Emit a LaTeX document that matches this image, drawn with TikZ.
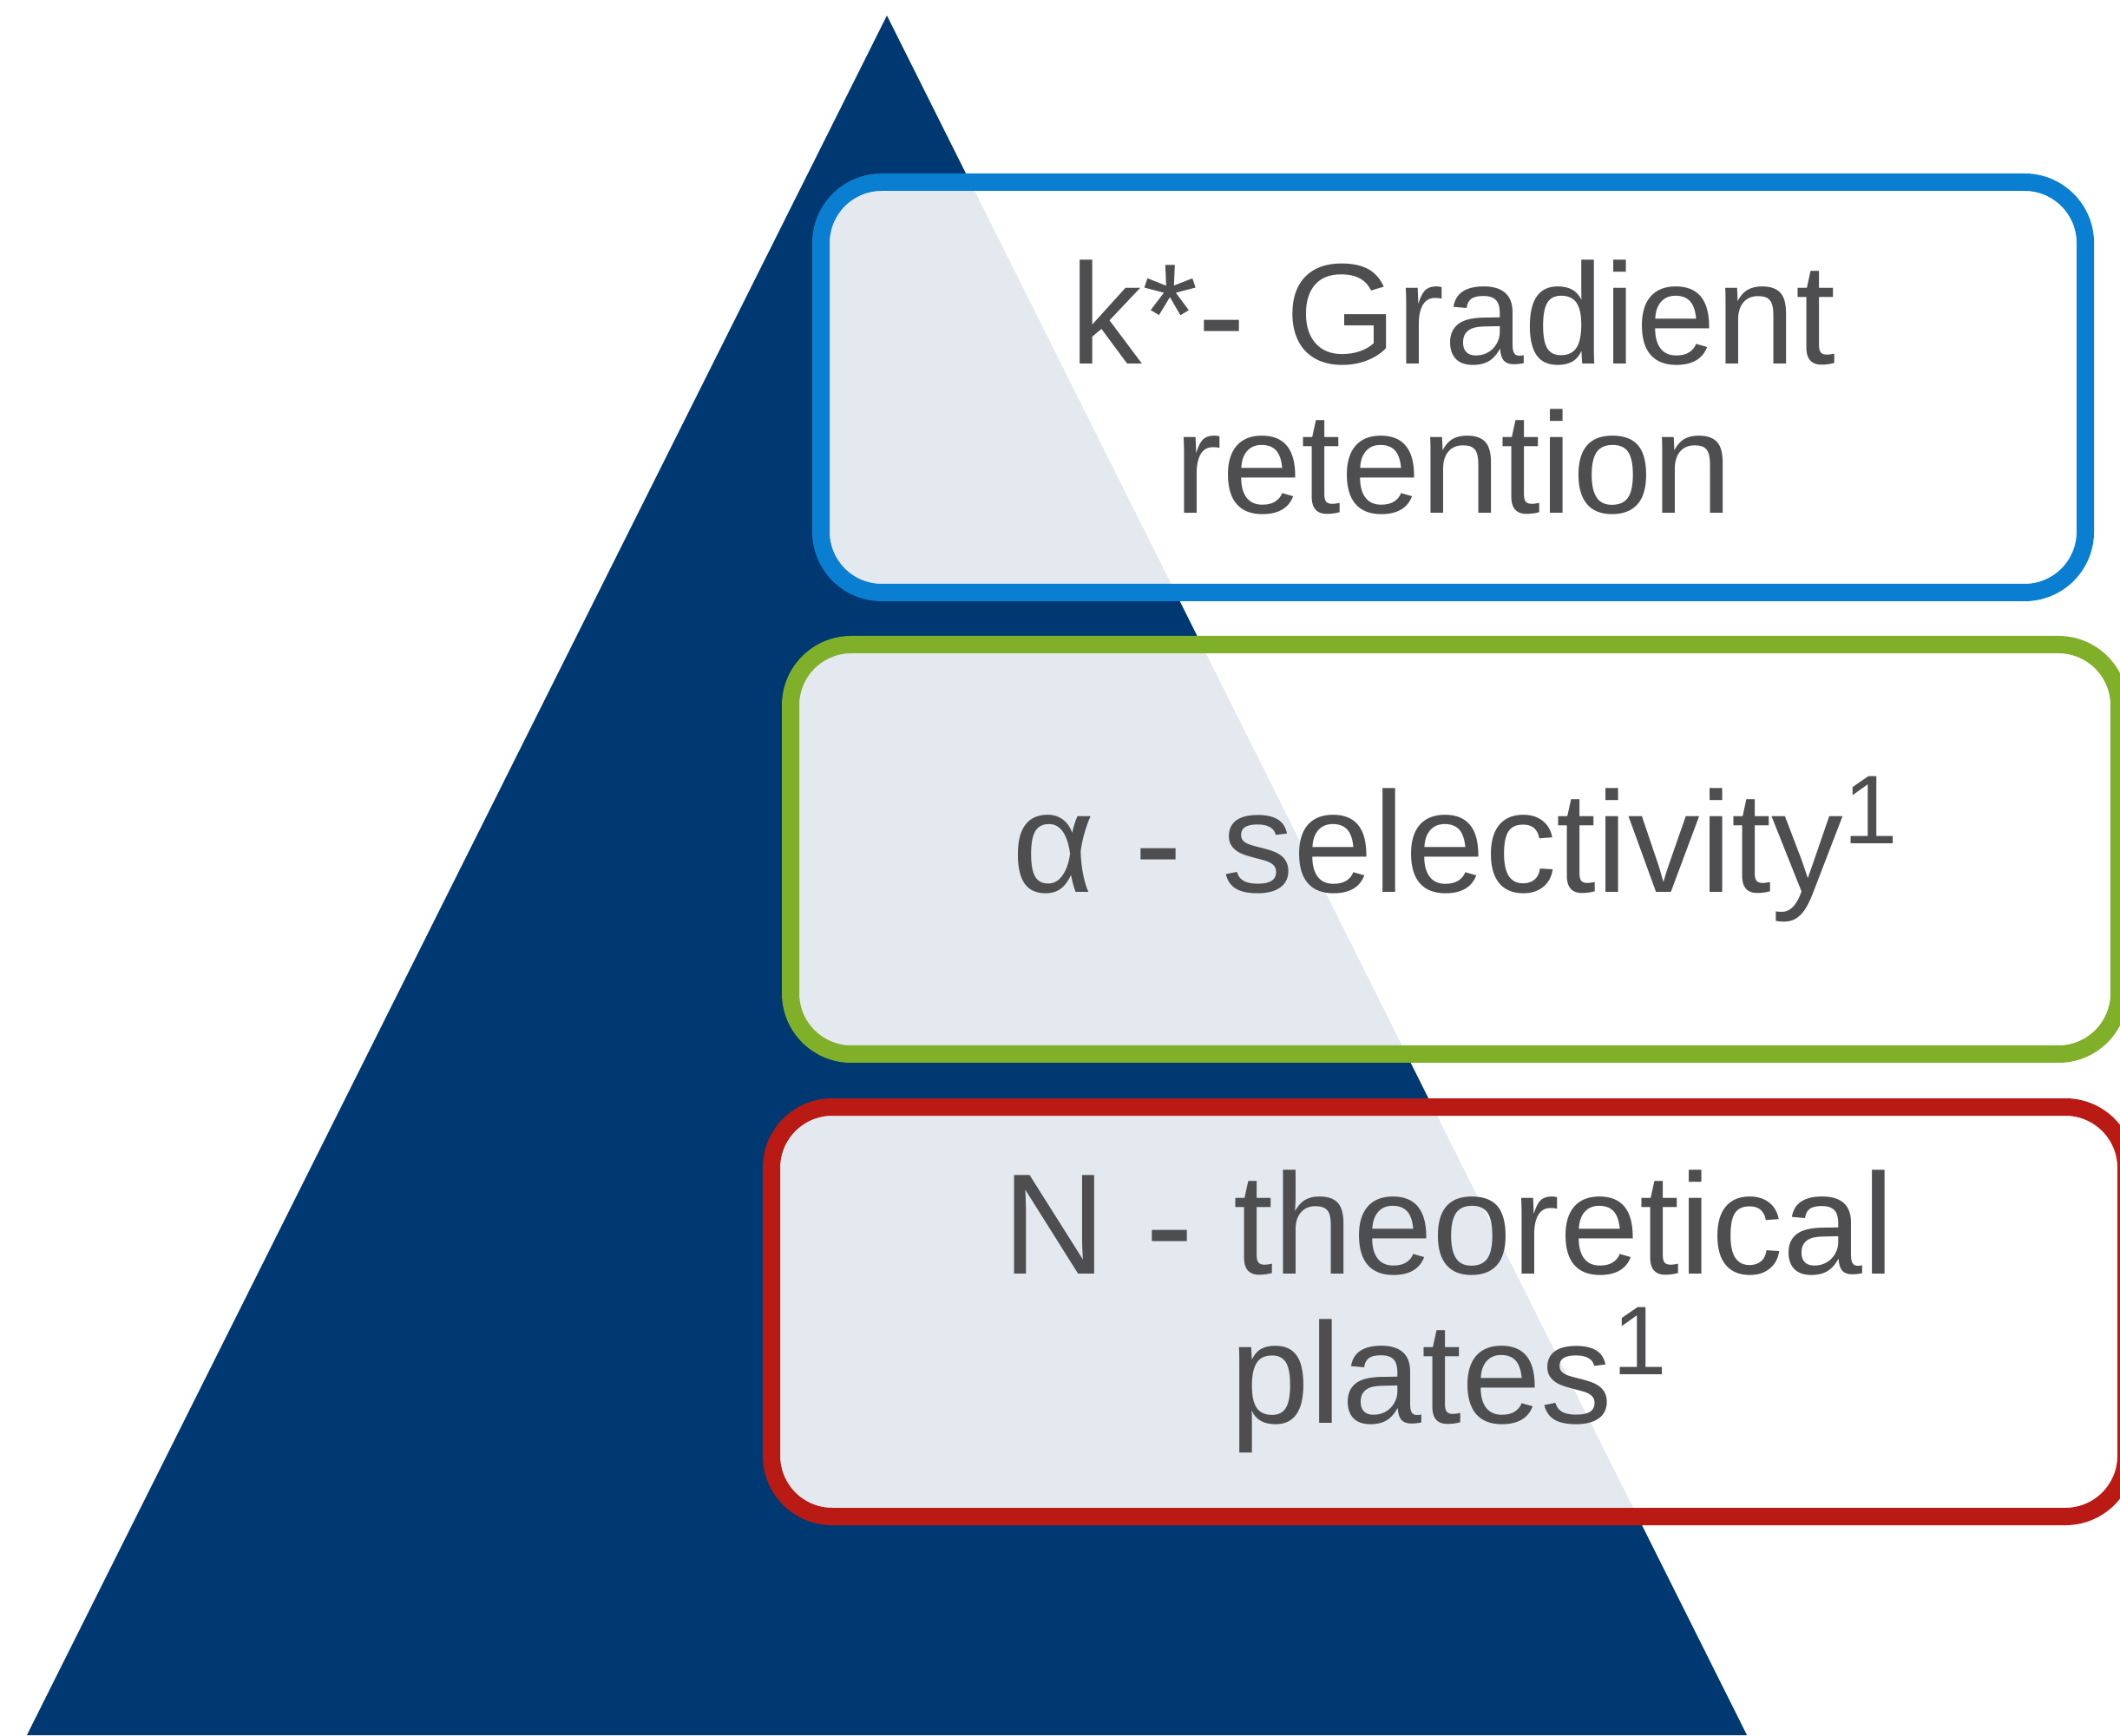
\documentclass[tikz,border=0pt]{standalone}
\usepackage{fontspec}
\setmainfont{Liberation Sans}
\usepackage{xcolor}
\usetikzlibrary{positioning}
\definecolor{pyrnavy}{RGB}{0,57,114}
\definecolor{kblue}{RGB}{10,127,210}
\definecolor{agreen}{RGB}{128,176,42}
\definecolor{nred}{RGB}{185,26,20}
\definecolor{txtgray}{RGB}{78,78,80}
\newcommand{\refmark}{\raisebox{16pt}{\fontsize{32}{32}\selectfont 1}}

\begin{document}
\begin{tikzpicture}[
    level/.style={draw, line width=2mm, rounded corners=0.7cm, fill=white, fill opacity=0.89, text opacity=1,
        align=center, text=txtgray, inner sep=0pt, font=\fontsize{47}{49}\selectfont},
    pyramid/.style={fill=pyrnavy}
]
    \useasboundingbox (0,0) rectangle (24.43,20);
    \coordinate (apex) at (10.22,19.82);
    \coordinate (baseL) at (0.31,0);
    \coordinate (baseR) at (20.13,0);
    \fill[pyramid] (apex) -- (baseL) -- (baseR) -- cycle;
    \node[level, draw=kblue, minimum width=14.57cm, minimum height=4.73cm] (retention) at (16.745,15.535) {k*- Gradient\\retention};
    \node[level, draw=agreen, minimum width=15.31cm, minimum height=4.72cm] (selectivity) at (16.765,10.21) {α - selectivity\refmark};
    \node[level, draw=nred, minimum width=15.61cm, minimum height=4.72cm] (plates) at (16.695,4.88) {N - theoretical\\plates\refmark};
\end{tikzpicture}
\end{document}
